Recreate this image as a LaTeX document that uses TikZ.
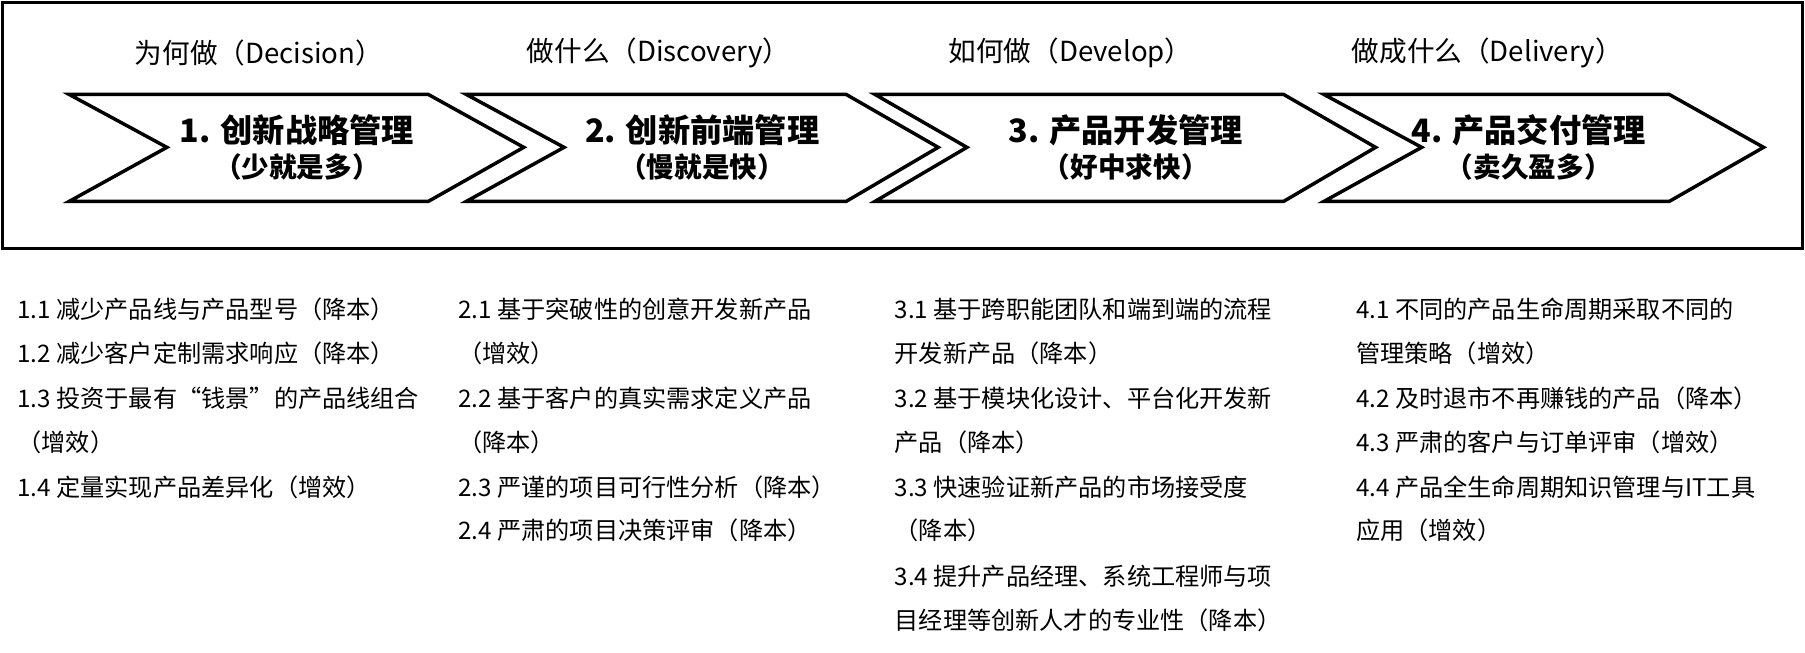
\documentclass[tikz,border=0pt]{standalone}
\usepackage{fontspec}
\setmainfont{Noto Sans CJK SC}
\begin{document}
\begin{tikzpicture}[x=1pt,y=-1pt,
  chev/.style={line width=3pt,line join=miter},
  head/.style={font=\fontsize{24}{28}\selectfont},
  big/.style={font=\fontsize{28}{32}\selectfont\bfseries},
  small/.style={font=\fontsize{24}{28}\selectfont\bfseries},
  item/.style={anchor=base west,inner sep=0,font=\fontsize{21}{24}\selectfont}]
   \useasboundingbox (0,0) rectangle (1568,567);
   \draw [line width=3pt] (2,2) rectangle (1566,216);
   % chevrons
   \draw [chev] (60,82) -- (372,82) -- (455,128) -- (372,175) -- (60,175) -- (145,128) -- cycle;
   \draw [chev] (405,82) -- (735,82) -- (815,128) -- (735,175) -- (405,175) -- (490,128) -- cycle;
   \draw [chev] (760,82) -- (1115,82) -- (1195,128) -- (1115,175) -- (760,175) -- (840,128) -- cycle;
   \draw [chev] (1150,82) -- (1450,82) -- (1532,128) -- (1450,175) -- (1150,175) -- (1235,128) -- cycle;
   % headings
   \node [head] (h1) at (225,46) {为何做（Decision）};
   \node [head] (h2) at (572,46) {做什么（Discovery）};
   \node [head] (h3) at (930,46) {如何做（Develop）};
   \node [head] (h4) at (1292,46) {做成什么（Delivery）};
   \node [big] (c1) at (258,113) {1. 创新战略管理};
   \node [small] (s1) at (258,145) {（少就是多）};
   \node [big] (c2) at (610,113) {2. 创新前端管理};
   \node [small] (s2) at (610,145) {（慢就是快）};
   \node [big] (c3) at (978,113) {3. 产品开发管理};
   \node [small] (s3) at (978,145) {（好中求快）};
   \node [big] (c4) at (1328,113) {4. 产品交付管理};
   \node [small] (s4) at (1328,145) {（卖久盈多）};
   % lists
   \node [item] (a1) at (15,277) {1.1 减少产品线与产品型号（降本）};
   \node [item] (a2) at (15,315) {1.2 减少客户定制需求响应（降本）};
   \node [item] (a3) at (15,354) {1.3 投资于最有“钱景”的产品线组合};
   \node [item] (a4) at (15,392) {（增效）};
   \node [item] (a5) at (15,431) {1.4 定量实现产品差异化（增效）};
   \node [item] (b1) at (398,277) {2.1 基于突破性的创意开发新产品};
   \node [item] (b2) at (398,315) {（增效）};
   \node [item] (b3) at (398,354) {2.2 基于客户的真实需求定义产品};
   \node [item] (b4) at (398,392) {（降本）};
   \node [item] (b5) at (398,431) {2.3 严谨的项目可行性分析（降本）};
   \node [item] (b6) at (398,469) {2.4 严肃的项目决策评审（降本）};
   \node [item] (d1) at (777,277) {3.1 基于跨职能团队和端到端的流程};
   \node [item] (d2) at (777,315) {开发新产品（降本）};
   \node [item] (d3) at (777,354) {3.2 基于模块化设计、平台化开发新};
   \node [item] (d4) at (777,392) {产品（降本）};
   \node [item] (d5) at (777,431) {3.3 快速验证新产品的市场接受度};
   \node [item] (d6) at (777,469) {（降本）};
   \node [item] (d7) at (777,509) {3.4 提升产品经理、系统工程师与项};
   \node [item] (d8) at (777,547) {目经理等创新人才的专业性（降本）};
   \node [item] (e1) at (1178,277) {4.1 不同的产品生命周期采取不同的};
   \node [item] (e2) at (1178,315) {管理策略（增效）};
   \node [item] (e3) at (1178,354) {4.2 及时退市不再赚钱的产品（降本）};
   \node [item] (e4) at (1178,392) {4.3 严肃的客户与订单评审（增效）};
   \node [item] (e5) at (1178,431) {4.4 产品全生命周期知识管理与IT工具};
   \node [item] (e6) at (1178,469) {应用（增效）};
\end{tikzpicture}
\end{document}
